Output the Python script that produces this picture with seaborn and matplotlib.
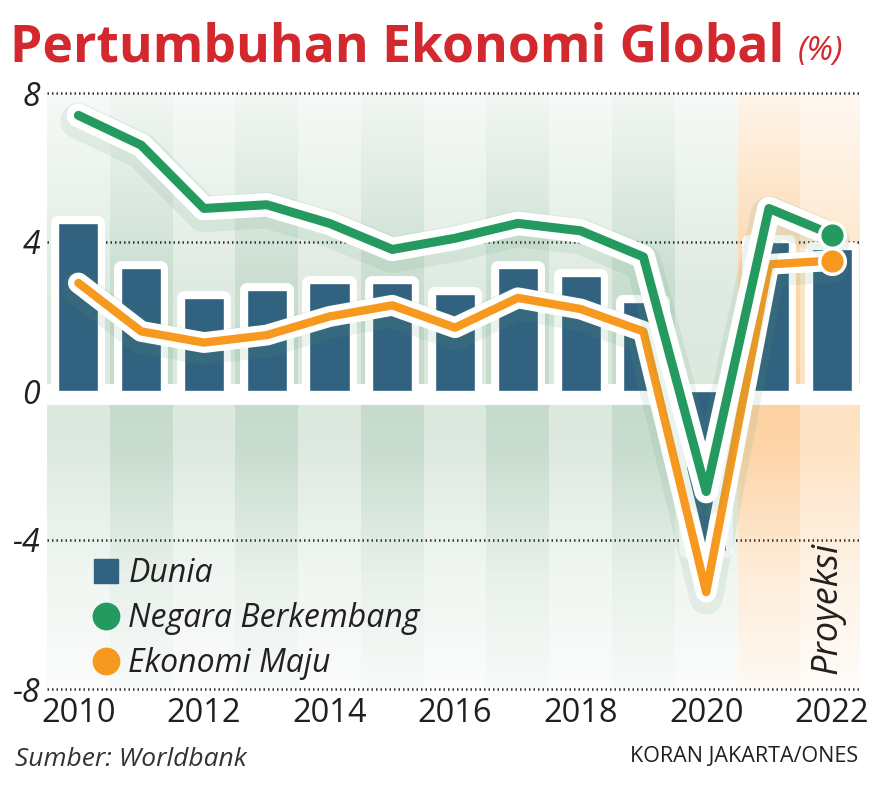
import numpy as np
import matplotlib
matplotlib.use("Agg")
import matplotlib.pyplot as plt
import matplotlib.patheffects as pe
from matplotlib.lines import Line2D
from matplotlib.colors import to_rgb
import seaborn as sns

# data (World Bank, % growth)
years = list(range(2010, 2023))
dunia = [4.5, 3.3, 2.5, 2.7, 2.9, 2.9, 2.6, 3.3, 3.1, 2.4, -4.3, 4.0, 3.8]
berkembang = [7.4, 6.6, 4.9, 5.0, 4.5, 3.8, 4.1, 4.5, 4.3, 3.6, -2.7, 4.9, 4.2]
maju = [2.9, 1.6, 1.3, 1.5, 2.0, 2.3, 1.7, 2.5, 2.2, 1.6, -5.4, 3.4, 3.5]
y_ticks = [8, 4, 0, -4, -8]
x_ticks = [2010, 2012, 2014, 2016, 2018, 2020, 2022]
proyeksi_start = 2021

# colours
c_bar = "#31627f"
c_green = "#249a60"
c_orange = "#f7991f"
c_red = "#d2282e"
c_text = "#231f20"

sns.set_theme(style="white")
plt.rcParams["font.family"] = ["Open Sans", "DejaVu Sans"]

W, H = 874, 794
fig = plt.figure(figsize=(W / 100, H / 100), dpi=100)
ax = fig.add_axes([47 / W, 1 - 689 / H, (860 - 47) / W, (689 - 93) / H])

# striped background, fading towards top and bottom
ny = 400
yy = np.linspace(-8, 8, ny)
fade = np.interp(yy, [-8, -5, -1.5, 0, 3, 8], [0.12, 0.4, 0.95, 1, 0.9, 0.22])
bg = np.ones((ny, len(years), 3))
for j, yr in enumerate(years):
    if yr >= proyeksi_start:
        base = to_rgb("#fdd2a2" if yr == proyeksi_start else "#fee2c2")
    else:
        base = to_rgb("#c5dbcc" if (yr - years[0]) % 2 else "#dce9df")
    bg[:, j, :] = 1 - fade[:, None] * (1 - np.array(base))
ax.imshow(bg, extent=[years[0] - 0.5, years[-1] + 0.5, -8, 8], origin="lower",
          aspect="auto", interpolation="nearest", zorder=0)
ax.axhspan(-0.19, 0, color="white", lw=0, zorder=1)

for t in y_ticks:
    if t != 0:
        ax.axhline(t, color="#333333", lw=1.8, ls=(0, (0.6, 1.2)),
                   zorder=1.5, clip_on=False)

# bars
sns.barplot(x=years, y=dunia, native_scale=True, width=0.64, color=c_bar,
            saturation=1, ax=ax, zorder=3)
for p in ax.patches:
    p.set_path_effects([pe.Stroke(linewidth=10, foreground="white", joinstyle="round"),
                        pe.Normal()])

# lines
glow = dict(offset=(0, -4), shadow_color="#5f9e74", alpha=0.12)
sns.lineplot(x=years, y=maju, color=c_orange, lw=6, ax=ax, zorder=4,
             solid_capstyle="round", solid_joinstyle="round",
             path_effects=[pe.SimpleLineShadow(linewidth=24, **glow),
                           pe.Stroke(linewidth=15, foreground="white"), pe.Normal()])
sns.lineplot(x=years, y=berkembang, color=c_green, lw=6.5, ax=ax, zorder=5,
             solid_capstyle="round", solid_joinstyle="round",
             path_effects=[pe.SimpleLineShadow(linewidth=26, **glow),
                           pe.Stroke(linewidth=17, foreground="white"), pe.Normal()])
sns.scatterplot(x=years[-1:], y=maju[-1:], s=340, color=c_orange, edgecolor="white",
                linewidth=2.5, ax=ax, zorder=6)
sns.scatterplot(x=years[-1:], y=berkembang[-1:], s=340, color=c_green, edgecolor="white",
                linewidth=2.5, ax=ax, zorder=6)

ax.set_xlim(years[0] - 0.5, years[-1] + 0.45)
ax.set_ylim(-8, 8)
ax.set_xticks(x_ticks)
ax.set_xticklabels([str(x) for x in x_ticks], fontsize=23.5, color=c_text)
ax.set_yticks(y_ticks)
ax.set_yticklabels([str(t) for t in y_ticks], fontsize=23, color=c_text, style="italic")
ax.tick_params(axis="x", length=0, pad=6)
ax.tick_params(axis="y", length=0, pad=5)
ax.set_xlabel("")
ax.set_ylabel("")
sns.despine(ax=ax, left=True, bottom=True)

# legend
handles = [
    Line2D([], [], marker="s", ls="", color=c_bar, markersize=17),
    Line2D([], [], marker="o", ls="", color=c_green, markersize=19),
    Line2D([], [], marker="o", ls="", color=c_orange, markersize=19),
]
ax.legend(handles, ["Dunia", "Negara Berkembang", "Ekonomi Maju"],
          loc="upper left", bbox_to_anchor=(78 / W, 1 - 541 / H),
          bbox_transform=fig.transFigure, frameon=False, borderpad=0,
          handlelength=0.78, handletextpad=0.3, labelspacing=0.38,
          prop={"size": 23, "style": "italic"}, labelcolor=c_text)

ax.text(2021.93, -7.6, "Proyeksi", rotation=90, ha="center", va="bottom",
        fontsize=26, style="italic", color=c_text, zorder=7)

# titles and notes
fig.text(10 / W, 1 - 62 / H, "Pertumbuhan Ekonomi Global", color=c_red,
         fontsize=37.2, fontweight="bold", va="baseline")
fig.text(798 / W, 1 - 60 / H, "(%)", color=c_red, fontsize=24, style="italic",
         va="baseline")
fig.text(15 / W, 1 - 766 / H, "Sumber: Worldbank", color="#333333", fontsize=19,
         style="italic", va="baseline")
fig.text(858 / W, 1 - 762 / H, "KORAN JAKARTA/ONES", color=c_text, fontsize=15.5,
         ha="right", va="baseline")

fig.savefig("out.png", dpi=100)
